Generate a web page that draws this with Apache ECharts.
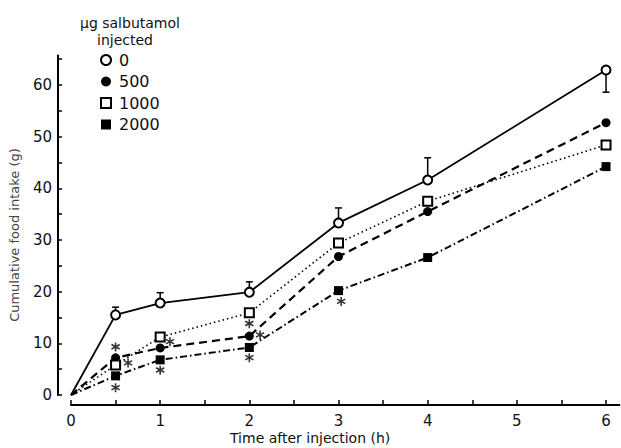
<!DOCTYPE html>
<html>
<head>
<meta charset="utf-8">
<title>Salbutamol food intake</title>
<script src="https://cdn.jsdelivr.net/npm/echarts@6/dist/echarts.min.js"></script>
</head>
<body style="margin:0;background:#fff">
<div id="container" style="width:621px;height:448px"></div>
<script type="text/javascript">

// time after injection (h)
let hours = [0, 0.5, 1, 2, 3, 4, 6];

// cumulative food intake (g) for each salbutamol dose
let dose0    = [0, 15.5, 17.8, 19.9, 33.3, 41.6, 62.9];
let dose500  = [0, 7.2, 9.1, 11.4, 26.8, 35.5, 52.7];
let dose1000 = [0, 5.8, 11.2, 15.9, 29.4, 37.5, 48.4];
let dose2000 = [0, 3.7, 6.8, 9.2, 20.2, 26.6, 44.2];

// error bars on the control group (end of the bar)
let errHours = [0.5, 1, 2, 3, 4, 6];
let errEnd   = [17.0, 19.8, 21.9, 36.2, 45.9, 58.6];

// significance stars
let starX = [0.5, 0.64, 0.5, 1.11, 1, 2, 2.12, 2, 3.03];
let starY = [9.3, 6.2, 1.4, 10.3, 4.8, 13.8, 11.6, 7.2, 18.1];

// axis ticks and labels
let xTicks  = [0, 0.5, 1, 1.5, 2, 2.5, 3, 3.5, 4, 4.5, 5, 5.5, 6];
let xLabels = [0, 1, 2, 3, 4, 5, 6];
let yTicks  = [0, 5, 10, 15, 20, 25, 30, 35, 40, 45, 50, 55, 60, 65];
let yLabels = [0, 10, 20, 30, 40, 50, 60];

let doseNames = ['0', '500', '1000', '2000'];

function pairs(xs, ys) {
    return xs.map(function (x, i) {
        // the line starts at the origin, which has no marker
        if (x === 0) return {value: [x, ys[i]], symbol: 'none'};
        return [x, ys[i]];
    });
}

let asterisk = 'path://M-1,-6L1,-6L1,6L-1,6Z' +
    'M4.696,-4.098L5.696,-2.366L-4.696,3.634L-5.696,1.902Z' +
    'M-5.696,-2.366L-4.696,-4.098L5.696,1.902L4.696,3.634Z';

let font = 'DejaVu Sans';

let dom = document.getElementById('container');
let chart = echarts.init(dom, null, {renderer: 'svg'});

chart.setOption({
    animation: false,
    backgroundColor: '#fff',
    grid: {left: 71, right: 1.6, top: 55.5, bottom: 53},
    xAxis: {
        type: 'value',
        min: 0,
        max: 6.15,
        offset: 10,
        axisLine: {onZero: false, lineStyle: {color: '#000', width: 2}},
        axisTick: {inside: true, length: 5, customValues: xTicks, lineStyle: {color: '#000', width: 1.5}},
        axisLabel: {customValues: xLabels, color: '#111', fontFamily: font, fontSize: 15, margin: 8},
        splitLine: {show: false}
    },
    yAxis: {
        type: 'value',
        min: 0,
        max: 65.7,
        offset: 13,
        axisLine: {onZero: false, lineStyle: {color: '#000', width: 2}},
        axisTick: {inside: true, length: 4, customValues: yTicks, lineStyle: {color: '#000', width: 1.5}},
        axisLabel: {customValues: yLabels, color: '#111', fontFamily: font, fontSize: 15, margin: 6},
        splitLine: {show: false}
    },
    legend: {
        orient: 'vertical',
        left: 95,
        top: 47,
        itemWidth: 10,
        itemHeight: 10,
        itemGap: 5.5,
        textStyle: {color: '#111', fontFamily: font, fontSize: 16, lineHeight: 16, padding: [0, 0, 0, 3]},
        data: [
            {name: '0', icon: 'emptyCircle'},
            {name: '500', icon: 'circle'},
            {name: '1000', icon: 'emptyRect'},
            {name: '2000', icon: 'rect'}
        ]
    },
    graphic: [
        {type: 'text', left: 80, top: 16, style: {text: 'μg salbutamol', fill: '#111', font: '14px "DejaVu Sans"'}},
        {type: 'text', left: 97, top: 33, style: {text: 'injected', fill: '#111', font: '14px "DejaVu Sans"'}},
        {type: 'text', left: 230, top: 431, style: {text: 'Time after injection (h)', fill: '#111', font: '14px "DejaVu Sans"'}},
        {type: 'text', x: 14, y: 235, rotation: Math.PI / 2,
            style: {text: 'Cumulative food intake (g)', fill: '#444', font: '13px "DejaVu Sans"', align: 'center', verticalAlign: 'middle'}}
    ],
    series: [
        {
            name: doseNames[0], type: 'line', data: pairs(hours, dose0),
            symbol: 'emptyCircle', symbolSize: 9, color: '#000',
            lineStyle: {color: '#000', width: 1.8, type: 'solid'},
            itemStyle: {color: '#000', borderWidth: 1.8}
        },
        {
            name: doseNames[1], type: 'line', data: pairs(hours, dose500),
            symbol: 'circle', symbolSize: 9, color: '#000',
            lineStyle: {color: '#000', width: 2.2, type: [8, 5]},
            itemStyle: {color: '#000'}
        },
        {
            name: doseNames[2], type: 'line', data: pairs(hours, dose1000),
            symbol: 'emptyRect', symbolSize: 9, color: '#000',
            lineStyle: {color: '#000', width: 1.6, type: [1.5, 3]},
            itemStyle: {color: '#000', borderWidth: 1.8}
        },
        {
            name: doseNames[3], type: 'line', data: pairs(hours, dose2000),
            symbol: 'rect', symbolSize: 9, color: '#000',
            lineStyle: {color: '#000', width: 2, type: [7, 3, 1.5, 3]},
            itemStyle: {color: '#000'}
        },
        {
            // error bars of the control group
            type: 'custom',
            data: errHours.map(function (x, i) { return [x, dose0[hours.indexOf(x)], errEnd[i]]; }),
            renderItem: function (params, api) {
                let from = api.coord([api.value(0), api.value(1)]);
                let to = api.coord([api.value(0), api.value(2)]);
                let st = {stroke: '#000', lineWidth: 1.5};
                return {
                    type: 'group',
                    children: [
                        {type: 'line', shape: {x1: from[0], y1: from[1], x2: to[0], y2: to[1]}, style: st},
                        {type: 'line', shape: {x1: to[0] - 3.5, y1: to[1], x2: to[0] + 3.5, y2: to[1]}, style: st}
                    ]
                };
            },
            z: 1
        },
        {
            type: 'scatter',
            data: starX.map(function (x, i) { return [x, starY[i]]; }),
            symbol: asterisk,
            symbolSize: 9,
            itemStyle: {color: '#000'}
        }
    ]
});

</script>
</body>
</html>
